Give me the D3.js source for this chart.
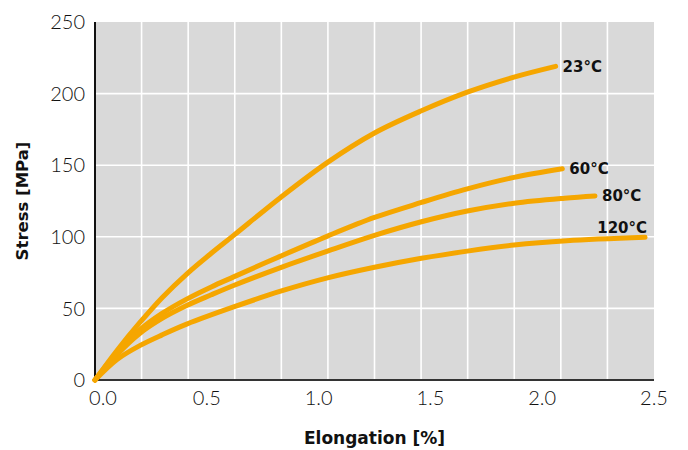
<!DOCTYPE html>
<html>
<head>
<meta charset="utf-8">
<script src="https://cdn.jsdelivr.net/npm/d3@7"></script>
<style>
  html, body { margin: 0; padding: 0; background: #fff; }
  svg { display: block; }
</style>
</head>
<body>
<svg id="chart" width="688" height="450"></svg>
<script>
// ---- data ----
const seriesNames = ["23°C", "60°C", "80°C", "120°C"];
const elong23  = [0, 0.1, 0.2, 0.3, 0.41, 0.52, 0.62, 0.83, 1.04, 1.25, 1.46, 1.665, 1.874, 2.06];
const stress23 = [0, 21, 40, 57.5, 74, 88.5, 101, 127.5, 152, 172.5, 188, 201, 211.5, 219];
const elong60  = [0, 0.1, 0.2, 0.3, 0.41, 0.52, 0.62, 0.83, 1.04, 1.25, 1.46, 1.665, 1.874, 2.09];
const stress60 = [0, 19.5, 35, 46.5, 56.5, 65, 72, 86.5, 100.5, 113.5, 124, 133.5, 141.5, 147.5];
const elong80  = [0, 0.1, 0.2, 0.3, 0.41, 0.52, 0.62, 0.83, 1.04, 1.25, 1.46, 1.665, 1.874, 2.1, 2.236];
const stress80 = [0, 18, 32.5, 43, 52, 59.5, 66, 78.5, 90, 101, 110.5, 118, 123.5, 127, 128.5];
const elong120  = [0, 0.1, 0.2, 0.3, 0.41, 0.62, 0.83, 1.04, 1.25, 1.46, 1.665, 1.874, 2.11, 2.46];
const stress120 = [0, 14.5, 24, 31.5, 39, 51, 62, 71.3, 78.7, 85, 90, 94.2, 97.2, 99.6];
const xTicks = [0, 0.5, 1.0, 1.5, 2.0, 2.5];
const yTicks = [0, 50, 100, 150, 200, 250];
const xTitle = "Elongation [%]";
const yTitle = "Stress [MPa]";

const series = [
  { name: seriesNames[0], x: elong23,  y: stress23 },
  { name: seriesNames[1], x: elong60,  y: stress60 },
  { name: seriesNames[2], x: elong80,  y: stress80 },
  { name: seriesNames[3], x: elong120, y: stress120 }
].map(s => ({ name: s.name, pts: s.x.map((v, i) => [v, s.y[i]]) }));

// ---- layout ----
const pL = 95, pR = 654, pT = 22, pB = 380;
const svg = d3.select("#chart");
const x = d3.scaleLinear().domain([0, 2.5]).range([pL, pR]);
const y = d3.scaleLinear().domain([0, 250]).range([pB, pT]);
const orange = "#f5a600";
const tickFont = "Lato, 'Noto Sans', sans-serif";
const boldFont = "'DejaVu Sans', sans-serif";

svg.append("rect")
  .attr("x", pL).attr("y", pT)
  .attr("width", pR - pL).attr("height", pB - pT)
  .attr("fill", "#d9d9d9");

// vertical grid: 12 equal divisions
const vGrid = d3.range(1, 12).map(i => i * 2.5 / 12);
svg.append("g").selectAll("line").data(vGrid).join("line")
  .attr("x1", d => x(d)).attr("x2", d => x(d))
  .attr("y1", pT).attr("y2", pB)
  .attr("stroke", "#fff").attr("stroke-width", 1.6);

svg.append("g").selectAll("line").data(yTicks.slice(1, -1)).join("line")
  .attr("x1", pL).attr("x2", pR)
  .attr("y1", d => y(d)).attr("y2", d => y(d))
  .attr("stroke", "#fff").attr("stroke-width", 1.6);

// axes lines
svg.append("line").attr("x1", pL).attr("x2", pL).attr("y1", pT).attr("y2", pB + 1)
  .attr("stroke", "#111").attr("stroke-width", 2);
svg.append("line").attr("x1", pL - 1).attr("x2", pR).attr("y1", pB).attr("y2", pB)
  .attr("stroke", "#333").attr("stroke-width", 2);

// tick labels
svg.append("g").selectAll("text").data(yTicks).join("text")
  .attr("x", pL - 10).attr("y", d => y(d)).attr("dy", "0.36em")
  .attr("text-anchor", "end").attr("font-size", 20).attr("fill", "#111")
  .attr("font-family", tickFont).attr("font-weight", 300)
  .text(d => d);

svg.append("g").selectAll("text").data(xTicks).join("text")
  .attr("x", d => x(d) + (d === 0 ? 8 : 0)).attr("y", 405)
  .attr("text-anchor", "middle").attr("font-size", 20).attr("fill", "#111")
  .attr("font-family", tickFont).attr("font-weight", 300)
  .text(d => d3.format(".1f")(d));

// titles
svg.append("text").attr("x", (pL + pR) / 2).attr("y", 444)
  .attr("text-anchor", "middle").attr("font-size", 17).attr("font-weight", "bold")
  .attr("font-family", boldFont).attr("fill", "#111").text(xTitle);
svg.append("text").attr("transform", `translate(28,${(pT + pB) / 2}) rotate(-90)`)
  .attr("text-anchor", "middle").attr("font-size", 16.5).attr("font-weight", "bold")
  .attr("font-family", boldFont).attr("fill", "#111").text(yTitle);

// curves
const line = d3.line().x(d => x(d[0])).y(d => y(d[1])).curve(d3.curveCatmullRom.alpha(0.5));
svg.append("g").selectAll("path").data(series).join("path")
  .attr("d", d => line(d.pts))
  .attr("fill", "none").attr("stroke", orange)
  .attr("stroke-width", 5).attr("stroke-linecap", "round").attr("stroke-linejoin", "round");

// end labels
svg.append("g").selectAll("text").data(series).join("text")
  .attr("x", d => {
    const e = d.pts[d.pts.length - 1];
    return d.name === "120°C" ? x(e[0]) + 2 : x(e[0]) + 7;
  })
  .attr("y", d => {
    const e = d.pts[d.pts.length - 1];
    return d.name === "120°C" ? y(e[1]) - 4.5 : y(e[1]) + 5.5;
  })
  .attr("text-anchor", d => d.name === "120°C" ? "end" : "start")
  .attr("font-size", 15).attr("font-weight", "bold").attr("fill", "#111")
  .attr("font-family", boldFont)
  .text(d => d.name);
</script>
</body>
</html>
